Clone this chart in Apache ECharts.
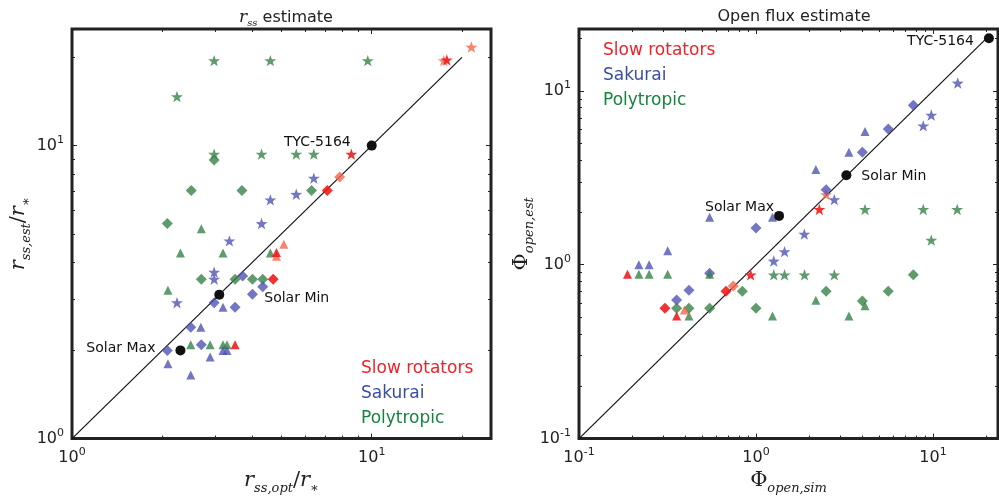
<!DOCTYPE html>
<html>
<head>
<meta charset="utf-8">
<script src="https://cdn.jsdelivr.net/npm/echarts@6/dist/echarts.min.js"></script>
<style>
  html, body { margin: 0; padding: 0; background: #fff; }
  #chart { width: 999px; height: 500px; }
</style>
</head>
<body>
<div id="chart"></div>
<script>
// ---- left panel: r_ss estimate ----
var rssPolyStar = [[2.98, 19.5], [4.59, 19.5], [9.7, 19.5], [2.24, 14.7], [2.98, 9.35], [4.29, 9.35], [5.6, 9.35], [6.41, 9.35]]
var rssSakStar = [[6.41, 7.74], [5.6, 6.82], [4.59, 6.53], [4.29, 5.42], [3.35, 4.73], [2.98, 3.7], [2.98, 3.5], [2.24, 2.91]]
var rssSlowStar = [[8.55, 9.35], [17.8, 19.6]]
var rssSlowStarLight = [[17.4, 19.5], [21.5, 21.7]]
var rssPolyDiamond = [[2.98, 8.93], [2.5, 7.03], [3.69, 7.03], [6.3, 7.03], [2.08, 5.42], [2.7, 3.5], [3.5, 3.5], [4.0, 3.5], [4.33, 3.5]]
var rssSakDiamond = [[3.71, 3.59], [4.33, 3.3], [4.0, 3.11], [2.98, 2.91], [3.5, 2.81], [2.49, 2.4], [2.7, 2.09], [2.08, 2.0]]
var rssSlowDiamond = [[4.69, 3.5], [7.11, 7.03]]
var rssSlowDiamondLight = [[7.82, 7.82]]
var rssPolyTri = [[2.7, 5.2], [2.3, 4.3], [3.19, 4.3], [4.59, 4.3], [2.09, 3.21], [2.49, 2.09], [2.89, 2.09], [3.19, 2.09], [3.29, 2.09]]
var rssSakTri = [[3.19, 2.81], [2.69, 2.4], [3.19, 2.0], [3.29, 2.0], [2.89, 1.9], [2.09, 1.8], [2.49, 1.65]]
var rssSlowTri = [[3.5, 2.09], [4.81, 4.32]]
var rssSlowTriLight = [[4.81, 4.19], [5.09, 4.61]]
var rssRef = [[2.3, 2.0], [3.1, 3.1], [10, 10]]
var rssLine = [[1, 1], [20, 20]]

// ---- right panel: open flux estimate ----
var fluxSakStar = [[13.8, 11.1], [9.78, 7.26], [8.81, 6.29], [2.77, 2.37], [1.875, 1.5], [1.45, 1.19], [1.26, 1.05]]
var fluxPolyStar = [[4.13, 2.08], [8.81, 2.08], [13.7, 2.08], [9.78, 1.385], [1.26, 0.875], [1.45, 0.875], [1.88, 0.875], [2.77, 0.875]]
var fluxSlowStar = [[2.28, 2.08], [0.933, 0.875]]
var fluxSlowStarLight = [[2.49, 2.53]]
var fluxPolyDiamond = [[7.74, 0.875], [5.59, 0.704], [2.49, 0.704], [0.837, 0.704], [3.99, 0.618], [1.0, 0.562], [0.547, 0.562], [0.418, 0.562], [0.356, 0.562]]
var fluxSakDiamond = [[7.74, 8.26], [5.59, 6.04], [3.99, 4.44], [2.49, 2.7], [1.0, 1.625], [0.547, 0.893], [0.418, 0.713], [0.356, 0.626]]
var fluxSlowDiamond = [[0.306, 0.562], [0.677, 0.704]]
var fluxSlowDiamondLight = [[0.744, 0.754]]
var fluxPolyTri = [[0.218, 0.881], [0.249, 0.881], [0.317, 0.881], [0.547, 0.881], [0.418, 0.508], [1.24, 0.508], [2.18, 0.624], [3.35, 0.508], [4.13, 0.581]]
var fluxSakTri = [[4.13, 5.84], [3.35, 4.44], [2.18, 3.53], [1.24, 1.875], [0.547, 1.875], [0.317, 1.205], [0.218, 1.0], [0.249, 1.0]]
var fluxSlowTri = [[0.188, 0.881], [0.356, 0.508]]
var fluxSlowTriLight = [[0.394, 0.55]]
var fluxRef = [[1.35, 1.91], [3.24, 3.27], [20.7, 20.1]]
var fluxLine = [[0.1, 0.1], [21, 21]]

var refNames = ['Solar Max', 'Solar Min', 'TYC-5164']

// tick positions
var rssMajor = [1, 10]
var rssMinor = [2, 3, 4, 5, 6, 7, 8, 9, 20]
var fluxMajor = [0.1, 1, 10]
var fluxMinor = [0.2, 0.3, 0.4, 0.5, 0.6, 0.7, 0.8, 0.9, 2, 3, 4, 5, 6, 7, 8, 9, 20]

var INK = '#222'
var GREEN = 'rgba(55,130,72,0.8)'
var BLUE = 'rgba(75,80,175,0.78)'
var RED = 'rgba(238,28,28,0.9)'
var SALMON = 'rgba(247,100,78,0.8)'
var STAR = 'path://M0,-10L2.35,-3.24L9.51,-3.09L3.8,1.24L5.88,8.09L0,4L-5.88,8.09L-3.8,1.24L-9.51,-3.09L-2.35,-3.24Z'

var chart = echarts.init(document.getElementById('chart'), null, { renderer: 'canvas' })

function expLabel(v) {
  var e = Math.round(Math.log10(v))
  return '{b|10}{s|' + e + '}'
}
var labelRich = {
  b: { fontSize: 16, color: INK, lineHeight: 22, fontFamily: 'DejaVu Sans' },
  s: { fontSize: 11, color: INK, lineHeight: 11, verticalAlign: 'top', fontFamily: 'DejaVu Sans' }
}
var mathRich = {
  i: { fontSize: 21, fontStyle: 'italic', fontFamily: 'DejaVu Serif', color: INK, lineHeight: 28 },
  n: { fontSize: 21, fontFamily: 'DejaVu Serif', color: INK, lineHeight: 28 },
  sub: { fontSize: 13, fontStyle: 'italic', fontFamily: 'DejaVu Serif', color: INK, lineHeight: 12, verticalAlign: 'bottom' }
}

// one log axis; 'main' axes carry labels and names, the others just mirror ticks
function axis(dim, grid, min, max, pos, ticks, len, main, name, gap) {
  var a = {
    type: 'log', logBase: 10, gridIndex: grid, min: min, max: max, position: pos,
    axisLine: { show: false },
    splitLine: { show: false },
    axisTick: { show: true, inside: true, length: len, customValues: ticks, lineStyle: { color: INK, width: 1 } },
    axisLabel: { show: false }
  }
  if (main) {
    a.axisLabel = { show: true, customValues: ticks, formatter: expLabel, rich: labelRich, margin: 8 }
    a.name = name
    a.nameLocation = 'middle'
    a.nameGap = gap
    a.nameTextStyle = { rich: mathRich }
    if (dim === 'y') a.nameRotate = 90
  }
  return a
}

function mk(data, symbol, color, size, idx, z) {
  return {
    type: 'scatter', data: data, symbol: symbol, symbolSize: size, symbolKeepAspect: true,
    xAxisIndex: idx, yAxisIndex: idx, z: z || 3,
    itemStyle: { color: color, opacity: 1 }, silent: true
  }
}

function refSeries(data, idx, labels) {
  return {
    type: 'scatter', xAxisIndex: idx, yAxisIndex: idx, z: 10, symbol: 'circle', symbolSize: 10,
    itemStyle: { color: '#111', opacity: 1 },
    data: data.map(function (d, i) {
      return { value: d, name: refNames[i], label: Object.assign({ show: true, formatter: '{b}', color: '#111', opacity: 1, fontSize: 14, fontFamily: 'DejaVu Sans' }, labels[i]) }
    })
  }
}

function lineSeries(data, idx) {
  return {
    type: 'line', data: data, xAxisIndex: idx, yAxisIndex: idx, symbol: 'none', z: 2,
    lineStyle: { color: '#111', width: 1.2 }, silent: true
  }
}

var legendFont = '17px "DejaVu Sans"'

var option = {
  backgroundColor: '#fff',
  animation: false,
  textStyle: { fontFamily: 'DejaVu Sans' },
  title: [
    { text: '{i|r}{sub|ss}{n| estimate}', left: 281, top: 3, textAlign: 'center',
      textStyle: { fontWeight: 'normal', rich: {
        i: { fontSize: 17, fontStyle: 'italic', fontWeight: 'normal', fontFamily: 'DejaVu Serif', color: INK, lineHeight: 20 },
        sub: { fontSize: 10, fontStyle: 'italic', fontWeight: 'normal', fontFamily: 'DejaVu Serif', color: INK, lineHeight: 10, verticalAlign: 'bottom' },
        n: { fontSize: 16, fontWeight: 'normal', fontFamily: 'DejaVu Sans', color: INK, lineHeight: 20 }
      } } },
    { text: 'Open flux estimate', left: 789, top: 4, textAlign: 'center',
      textStyle: { fontSize: 16, fontWeight: 'normal', color: INK, fontFamily: 'DejaVu Sans' } }
  ],
  grid: [
    { left: 72, top: 29, width: 419, height: 417, show: true, borderWidth: 3, borderColor: INK, containLabel: false },
    { left: 579, top: 29, width: 419, height: 417, show: true, borderWidth: 3, borderColor: INK, containLabel: false }
  ],
  xAxis: [
    axis('x', 0, 1, 25, 'bottom', rssMajor, 5, true, '{i|r}{sub|ss,opt}{n|/}{i|r}{sub|∗}', 28),
    axis('x', 0, 1, 25, 'bottom', rssMinor, 3, false),
    axis('x', 0, 1, 25, 'top', rssMajor, 5, false),
    axis('x', 0, 1, 25, 'top', rssMinor, 3, false),
    axis('x', 1, 0.1, 23.3, 'bottom', fluxMajor, 5, true, '{n|Φ}{sub|open,sim}', 28),
    axis('x', 1, 0.1, 23.3, 'bottom', fluxMinor, 3, false),
    axis('x', 1, 0.1, 23.3, 'top', fluxMajor, 5, false),
    axis('x', 1, 0.1, 23.3, 'top', fluxMinor, 3, false)
  ],
  yAxis: [
    axis('y', 0, 1, 25, 'left', rssMajor, 5, true, '{i|r}{sub|ss,est}{n|/}{i|r}{sub|∗}', 38),
    axis('y', 0, 1, 25, 'left', rssMinor, 3, false),
    axis('y', 0, 1, 25, 'right', rssMajor, 5, false),
    axis('y', 0, 1, 25, 'right', rssMinor, 3, false),
    axis('y', 1, 0.1, 22.7, 'left', fluxMajor, 5, true, '{n|Φ}{sub|open,est}', 38),
    axis('y', 1, 0.1, 22.7, 'left', fluxMinor, 3, false),
    axis('y', 1, 0.1, 22.7, 'right', fluxMajor, 5, false),
    axis('y', 1, 0.1, 22.7, 'right', fluxMinor, 3, false)
  ],
  graphic: [
    { type: 'text', left: 361, top: 360, style: { text: 'Slow rotators', fill: '#ee2229', font: legendFont } },
    { type: 'text', left: 361, top: 385, style: { text: 'Sakurai', fill: '#3a4ea0', font: legendFont } },
    { type: 'text', left: 361, top: 410, style: { text: 'Polytropic', fill: '#16843f', font: legendFont } },
    { type: 'text', left: 603, top: 42, style: { text: 'Slow rotators', fill: '#ee2229', font: legendFont } },
    { type: 'text', left: 603, top: 67, style: { text: 'Sakurai', fill: '#3a4ea0', font: legendFont } },
    { type: 'text', left: 603, top: 92, style: { text: 'Polytropic', fill: '#16843f', font: legendFont } }
  ],
  series: [
    lineSeries(rssLine, 0),
    mk(rssPolyStar, STAR, GREEN, 12, 0),
    mk(rssSakStar, STAR, BLUE, 12, 0),
    mk(rssSlowStarLight, STAR, SALMON, 12, 0),
    mk(rssSlowStar, STAR, RED, 12, 0),
    mk(rssPolyDiamond, 'diamond', GREEN, 11, 0),
    mk(rssSakDiamond, 'diamond', BLUE, 11, 0),
    mk(rssSlowDiamondLight, 'diamond', SALMON, 11, 0),
    mk(rssSlowDiamond, 'diamond', RED, 11, 0),
    mk(rssPolyTri, 'triangle', GREEN, 9, 0),
    mk(rssSakTri, 'triangle', BLUE, 9, 0),
    mk(rssSlowTriLight, 'triangle', SALMON, 9, 0),
    mk(rssSlowTri, 'triangle', RED, 9, 0),
    refSeries(rssRef, 0, [
      { position: 'left', distance: 20, offset: [0, -2] },
      { position: 'right', distance: 40, offset: [0, 4] },
      { position: 'left', distance: 16, offset: [0, -3] }
    ]),

    lineSeries(fluxLine, 4),
    mk(fluxPolyStar, STAR, GREEN, 12, 4),
    mk(fluxSakStar, STAR, BLUE, 12, 4),
    mk(fluxSlowStarLight, STAR, SALMON, 12, 4),
    mk(fluxSlowStar, STAR, RED, 12, 4),
    mk(fluxPolyDiamond, 'diamond', GREEN, 11, 4),
    mk(fluxSakDiamond, 'diamond', BLUE, 11, 4),
    mk(fluxSlowDiamondLight, 'diamond', SALMON, 11, 4),
    mk(fluxSlowDiamond, 'diamond', RED, 11, 4),
    mk(fluxPolyTri, 'triangle', GREEN, 9, 4),
    mk(fluxSakTri, 'triangle', BLUE, 9, 4),
    mk(fluxSlowTriLight, 'triangle', SALMON, 9, 4),
    mk(fluxSlowTri, 'triangle', RED, 9, 4),
    refSeries(fluxRef, 4, [
      { position: 'left', distance: 2, offset: [2, -9] },
      { position: 'right', distance: 10, offset: [0, 1] },
      { position: 'left', distance: 10, offset: [0, 3] }
    ])
  ]
}

chart.setOption(option)
</script>
</body>
</html>
